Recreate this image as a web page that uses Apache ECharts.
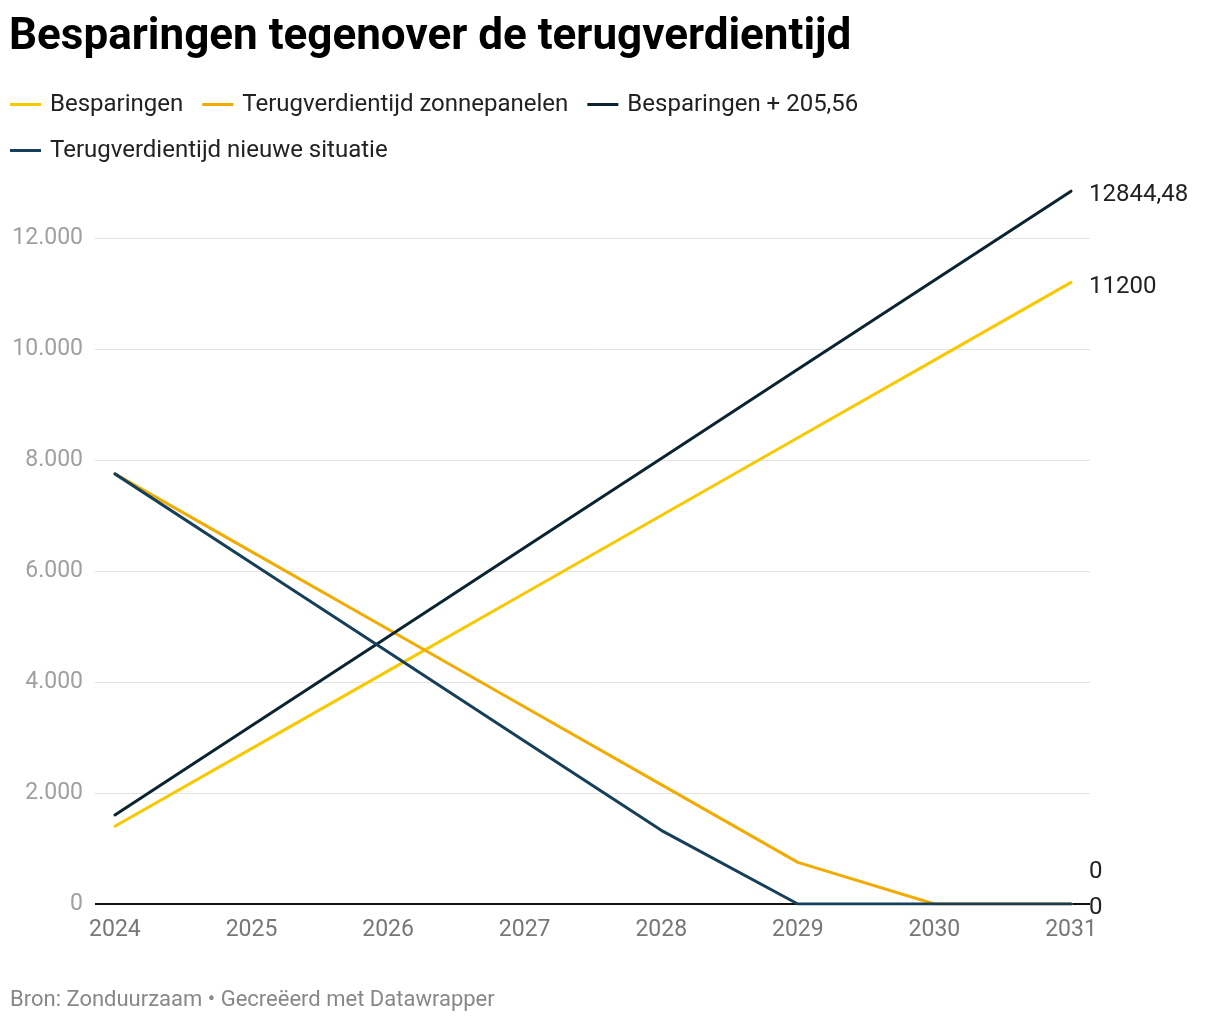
<!DOCTYPE html>
<html><head><meta charset="utf-8">
<script src="https://cdn.jsdelivr.net/npm/echarts@6/dist/echarts.min.js"></script>
<style>html,body{margin:0;padding:0;background:#fff}#c{width:1220px;height:1020px}</style>
</head><body><div id="c"></div>
<script>
const years = [2024, 2025, 2026, 2027, 2028, 2029, 2030, 2031];
const besparingen = [1400, 2800, 4200, 5600, 7000, 8400, 9800, 11200];
const terugZonnepanelen = [7750, 6350, 4950, 3550, 2150, 750, 0, 0];
const besparingenPlus = [1605.56, 3211.12, 4816.68, 6422.24, 8027.8, 9633.36, 11238.92, 12844.48];
const terugNieuw = [7750, 6144.44, 4538.88, 2933.32, 1327.76, 0, 0, 0];
const yTicks = [0, 2000, 4000, 6000, 8000, 10000, 12000];
const endLabels = ['11200', '0', '12844,48', '0'];

const names = ['Besparingen', 'Terugverdientijd zonnepanelen', 'Besparingen + 205,56', 'Terugverdientijd nieuwe situatie'];
const colors = ['#f8c800', '#f2ab00', '#0b2431', '#163f5a'];
const datasets = [besparingen, terugZonnepanelen, besparingenPlus, terugNieuw];
const labelOffsets = [[0,5],[0,-32],[0,4],[0,4]];

const chart = echarts.init(document.getElementById('c'));
const font = 'Roboto';
const gridLines = yTicks.map(v => ({
  yAxis: v,
  lineStyle: v === 0 ? {color: '#111', width: 2, type: 'solid'} : {color: '#e3e3e3', width: 1, type: 'solid'}
}));
chart.setOption({
  animation: false,
  textStyle: {fontFamily: font},
  title: [{
    text: 'Besparingen tegenover de terugverdientijd',
    left: 4, top: 11,
    textStyle: {fontFamily: font, fontSize: 44, fontWeight: 'bold', color: '#000'}
  }, {
    text: 'Bron: Zonduurzaam • Gecreëerd met Datawrapper',
    left: 5, top: 984,
    textStyle: {fontFamily: font, fontSize: 22, fontWeight: 'normal', color: '#888'}
  }],
  legend: {
    left: 5, top: 86, width: 900,
    itemWidth: 31, itemHeight: 3, itemGap: 19,
    icon: 'rect',
    textStyle: {fontFamily: font, fontSize: 24, color: '#222', lineHeight: 27, padding: [0,0,0,4]},
    data: names
  },
  grid: {left: 95, right: 130, top: 182.5, bottom: 116, containLabel: false},
  xAxis: {
    type: 'value',
    min: 2023.854, max: 2031.139,
    axisLine: {show: false},
    axisTick: {show: false},
    splitLine: {show: false},
    axisLabel: {
      customValues: years,
      color: '#777', fontSize: 23, margin: 15,
      formatter: v => String(v)
    }
  },
  yAxis: {
    type: 'value', min: 0, max: 13000,
    axisLine: {show: false}, axisTick: {show: false},
    splitLine: {show: false},
    axisLabel: {
      customValues: yTicks,
      color: '#a0a0a0', fontSize: 23, margin: 12,
      formatter: v => v === 0 ? '0' : (v/1000) + '.000'
    }
  },
  series: names.map((n, i) => ({
    name: n, type: 'line',
    data: years.map((y, j) => [y, datasets[i][j]]),
    color: colors[i],
    symbol: 'none',
    lineStyle: {width: 3, color: colors[i], cap: 'round', join: 'round'},
    z: 3 + i,
    endLabel: {
      show: true, distance: 18, offset: labelOffsets[i],
      formatter: () => endLabels[i],
      color: '#222', fontSize: 24, fontFamily: font
    },
    markLine: i === 0 ? {
      silent: true, symbol: 'none', label: {show: false},
      data: gridLines, z: 1
    } : undefined
  }))
});
</script></body></html>
